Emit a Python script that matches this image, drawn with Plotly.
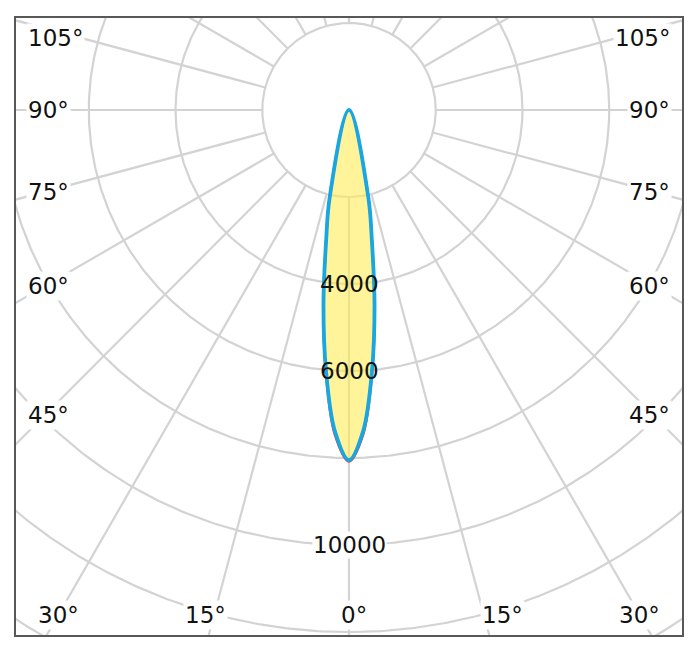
import numpy as np
import plotly.graph_objects as go

# ---- data: luminous intensity (cd) versus gamma angle (deg) ----
GAMMA_DEG = [0, 2.5, 5, 7.5, 10, 12.5, 15, 20, 25, 30, 35, 40, 45, 50, 55, 60,
             65, 70, 75, 80, 85, 90, 105, 120, 135, 150, 165, 180]
C0_C180_CD = [8050, 7400, 6050, 4510, 3030, 2060, 0, 0, 0, 0, 0, 0, 0, 0, 0, 0,
              0, 0, 0, 0, 0, 0, 0, 0, 0, 0, 0, 0]
C90_C270_CD = [8080, 7470, 6080, 4520, 3030, 2060, 0, 0, 0, 0, 0, 0, 0, 0, 0, 0,
               0, 0, 0, 0, 0, 0, 0, 0, 0, 0, 0, 0]
RING_CD = [2000, 4000, 6000, 8000, 10000, 12000, 14000, 16000, 18000]
RING_LABELS_CD = [4000, 6000, 10000]
SPOKE_DEG = list(range(-180, 181, 15))
ANGLE_LABELS_DEG = [0, 15, 30, 45, 60, 75, 90, 105]

# ---- geometry of the canvas ----
W, H = 700, 653
BODY = 8                      # default page margin around the figure
ML, MR, MT, MB = 16, 16, 18, 18
CPP = 2000 / 87.0             # cd per pixel
PW, PH = W - ML - MR, H - MT - MB
CENTER_FROM_TOP = 92          # pixels from plot top to pole
XR = PW / 2 * CPP
Y_TOP = CENTER_FROM_TOP * CPP
Y_BOT = -(PH - CENTER_FROM_TOP) * CPP

GRID = "#d3d3d3"
FONT = dict(family="DejaVu Sans, Verdana, sans-serif", size=23, color="#111111")


def curve_xy(gamma, cd):
    g = np.array(gamma, float)
    i = np.array(cd, float)
    # keep the lobe up to (and including) the first zero reading
    nz = np.nonzero(i == 0)[0]
    end = nz[0] + 1 if len(nz) else len(i)
    g, i = np.radians(g[:end]), i[:end]
    gg = np.concatenate([-g[::-1], g[1:]])
    ii = np.concatenate([i[::-1], i[1:]])
    return ii * np.sin(gg), -ii * np.cos(gg)


fig = go.Figure()

# rings
t = np.linspace(0, 2 * np.pi, 721)
rx, ry = [], []
for r in RING_CD:
    rx += list(r * np.cos(t)) + [None]
    ry += list(r * np.sin(t)) + [None]
fig.add_trace(go.Scatter(x=rx, y=ry, mode="lines", hoverinfo="skip",
                         line=dict(color=GRID, width=2.2)))

# spokes
sx, sy = [], []
r0, r1 = RING_CD[0], 40000
for a in SPOKE_DEG:
    g = np.radians(a)
    sx += [r0 * np.sin(g), r1 * np.sin(g), None]
    sy += [-r0 * np.cos(g), -r1 * np.cos(g), None]
fig.add_trace(go.Scatter(x=sx, y=sy, mode="lines", hoverinfo="skip",
                         line=dict(color=GRID, width=2.2)))

bx, by = curve_xy(GAMMA_DEG, C0_C180_CD)
qx, qy = curve_xy(GAMMA_DEG, C90_C270_CD)
# fill
fig.add_trace(go.Scatter(x=bx, y=by, mode="lines", fill="toself", line_shape="spline",
                         fillcolor="rgba(255,236,80,0.58)",
                         line=dict(width=0, color="rgba(0,0,0,0)"), hoverinfo="skip"))
# red plane
fig.add_trace(go.Scatter(x=qx, y=qy, mode="lines", line_shape="spline",
                         line=dict(color="#e8342e", width=2.5), hoverinfo="skip"))
# blue plane
fig.add_trace(go.Scatter(x=bx, y=by, mode="lines", line_shape="spline",
                         line=dict(color="#1aa6e0", width=3.8), hoverinfo="skip"))

ann = []
peak = max(C0_C180_CD)
for r in RING_LABELS_CD:
    ann.append(dict(x=0, y=-r, text=str(r), showarrow=False, font=FONT,
                    xanchor="center", yanchor="middle",
                    bgcolor="white" if r > peak else "rgba(0,0,0,0)",
                    borderpad=0))

side_x = (PW / 2 - 10) * CPP
side_ray = (PW / 2 - 29) * CPP
bot_y = -(PH - CENTER_FROM_TOP - 20) * CPP
y_max = (CENTER_FROM_TOP - 20) * CPP
for a in ANGLE_LABELS_DEG:
    g = np.radians(a)
    txt = f"{a}°"
    if a <= 30:
        dx = min(abs(bot_y) * np.tan(g), 301 * CPP)
        for s in ([1] if a == 0 else [-1, 1]):
            off = 5 * CPP + (0 if a == 0 else s * 14 * CPP)
            if a == 30:
                off = 0
            ann.append(dict(x=s * dx + off, y=bot_y, text=txt, showarrow=False,
                            font=FONT, xanchor="center", yanchor="middle",
                            bgcolor="white", borderpad=1))
    else:
        y = -side_ray / np.tan(g) if a != 90 else 0.0
        y = min(y, y_max)
        for s, anc in ((-1, "left"), (1, "right")):
            ann.append(dict(x=s * side_x, y=y, text=txt, showarrow=False,
                            font=FONT, xanchor=anc, yanchor="middle",
                            bgcolor="white", borderpad=1))

fig.update_layout(
    width=W - 2 * BODY, height=H - 2 * BODY, showlegend=False,
    margin=dict(l=ML - BODY, r=MR - BODY, t=MT - BODY, b=MB - BODY),
    paper_bgcolor="white", plot_bgcolor="white",
    annotations=ann,
    xaxis=dict(range=[-XR, XR], showgrid=False, zeroline=False, showticklabels=False,
               ticks="", showline=True, mirror=True, linecolor="#585858", linewidth=2,
               fixedrange=True),
    yaxis=dict(range=[Y_BOT, Y_TOP], showgrid=False, zeroline=False, showticklabels=False,
               ticks="", showline=True, mirror=True, linecolor="#585858", linewidth=2,
               fixedrange=True),
)
fig.write_html("out.html")
